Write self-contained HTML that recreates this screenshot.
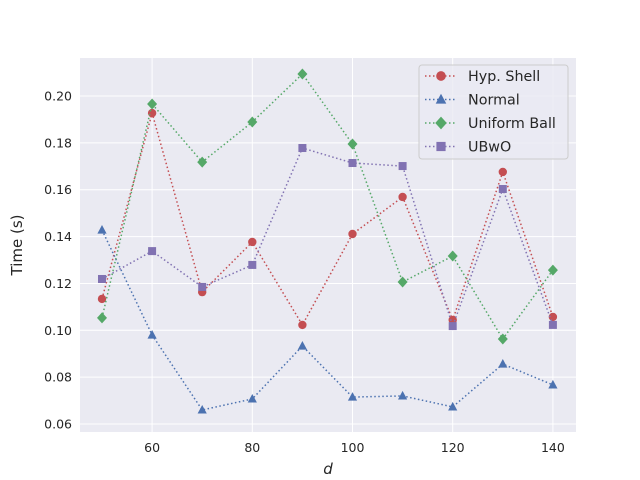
<!DOCTYPE html>
<html><head><meta charset="utf-8">
<style>
body{margin:0;background:#fff;}
svg{display:block;font-family:"DejaVu Sans","Liberation Sans",sans-serif;}
</style></head>
<body>
<svg id="chart" width="640" height="480">
<rect x="80" y="58" width="496" height="374" fill="#EAEAF2"/>
<g id="grid"></g>
<g id="ticks"></g>
<g id="series"></g>
<text x="328" y="474" text-anchor="middle" font-size="15" font-style="italic" fill="#262626">d</text>
<text transform="translate(22,245) rotate(-90)" text-anchor="middle" font-size="15" fill="#262626">Time (s)</text>
<g id="legend"></g>
</svg>
<script>
const categories=[50,60,70,80,90,100,110,120,130,140];
const seriesNames=["Hyp. Shell","Normal","Uniform Ball","UBwO"];
const hypShell=[0.1134,0.1927,0.1163,0.1377,0.1023,0.1411,0.1569,0.1044,0.1676,0.1057];
const normal=[0.1428,0.098,0.066,0.0707,0.0933,0.0715,0.072,0.0673,0.0856,0.0767];
const uniformBall=[0.1053,0.1966,0.1718,0.1889,0.2094,0.1795,0.1206,0.1317,0.0963,0.1257];
const ubwo=[0.1219,0.1338,0.1185,0.1279,0.1778,0.1714,0.1701,0.1018,0.1603,0.1023];
const xTicks=[60,80,100,120,140];
const yTicks=[0.06,0.08,0.10,0.12,0.14,0.16,0.18,0.20];

const NS="http://www.w3.org/2000/svg";
function xs(v){return 102+(v-50)*5.01;}
function ys(v){return 96+(0.20-v)*2343;}
function mk(tag,attrs,parent){const e=document.createElementNS(NS,tag);for(const k in attrs)e.setAttribute(k,attrs[k]);parent.appendChild(e);return e;}
const grid=document.getElementById('grid'),ticks=document.getElementById('ticks'),ser=document.getElementById('series'),leg=document.getElementById('legend');
xTicks.forEach(t=>{
  const l=mk('line',{x1:xs(t),x2:xs(t),y1:58,y2:432,stroke:'#fff','stroke-width':1},grid);
  
  
  const tx=mk('text',{x:xs(t),y:452,'text-anchor':'middle','font-size':12.5,fill:'#262626'},ticks);
  tx.textContent=t;
  
  
});
yTicks.forEach(t=>{
  const l=mk('line',{x1:80,x2:576,y1:ys(t),y2:ys(t),stroke:'#fff','stroke-width':1},grid);
  
  
  const tx=mk('text',{x:72,y:ys(t)+4.5,'text-anchor':'end','font-size':12.5,fill:'#262626'},ticks);
  tx.textContent=t.toFixed(2);
  
  
});
function marker(type,x,y,color,parent,s){
  s=s||1;
  let e;
  if(type==='circle')e=mk('circle',{cx:x,cy:y,r:4.2*s,fill:color},parent);
  else if(type==='tri')e=mk('polygon',{points:`${x},${y-5*s} ${x-4.6*s},${y+3.6*s} ${x+4.6*s},${y+3.6*s}`,fill:color},parent);
  else if(type==='diamond')e=mk('polygon',{points:`${x},${y-5.5*s} ${x+5*s},${y} ${x},${y+5.5*s} ${x-5*s},${y}`,fill:color},parent);
  else e=mk('rect',{x:x-4*s,y:y-4*s,width:8*s,height:8*s,fill:color},parent);
  return e;
}
const defs=[[hypShell,'#C44E52','circle'],[normal,'#4C72B0','tri'],[uniformBall,'#55A868','diamond'],[ubwo,'#8172B2','square']];
defs.forEach((d,i)=>{
  const g=mk('g',{},ser);
  
  
  const pts=d[0].map((v,j)=>xs(categories[j])+','+ys(v)).join(' ');
  const pl=mk('polyline',{points:pts,fill:'none',stroke:d[1],'stroke-width':1.5,'stroke-dasharray':'1.5,2.5'},g);
  
  
  d[0].forEach((v,j)=>{
    const m=marker(d[2],xs(categories[j]),ys(v),d[1],g);
    
    
  });
});
const box=mk('rect',{x:419,y:65,width:149,height:94,rx:3,fill:'#EAEAF2','fill-opacity':0.8,stroke:'#cccccc'},leg);


defs.forEach((d,i)=>{
  const y=76+i*23.5;
  const g=mk('g',{},leg);
  
  
  mk('line',{x1:425,x2:455,y1:y,y2:y,stroke:d[1],'stroke-width':1.5,'stroke-dasharray':'1.5,2.5'},g);
  marker(d[2],441,y,d[1],g,1.15);
  const t=mk('text',{x:468,y:y+5,'font-size':14.3,fill:'#262626'},g);
  t.textContent=seriesNames[i];
});
</script>
</body></html>
